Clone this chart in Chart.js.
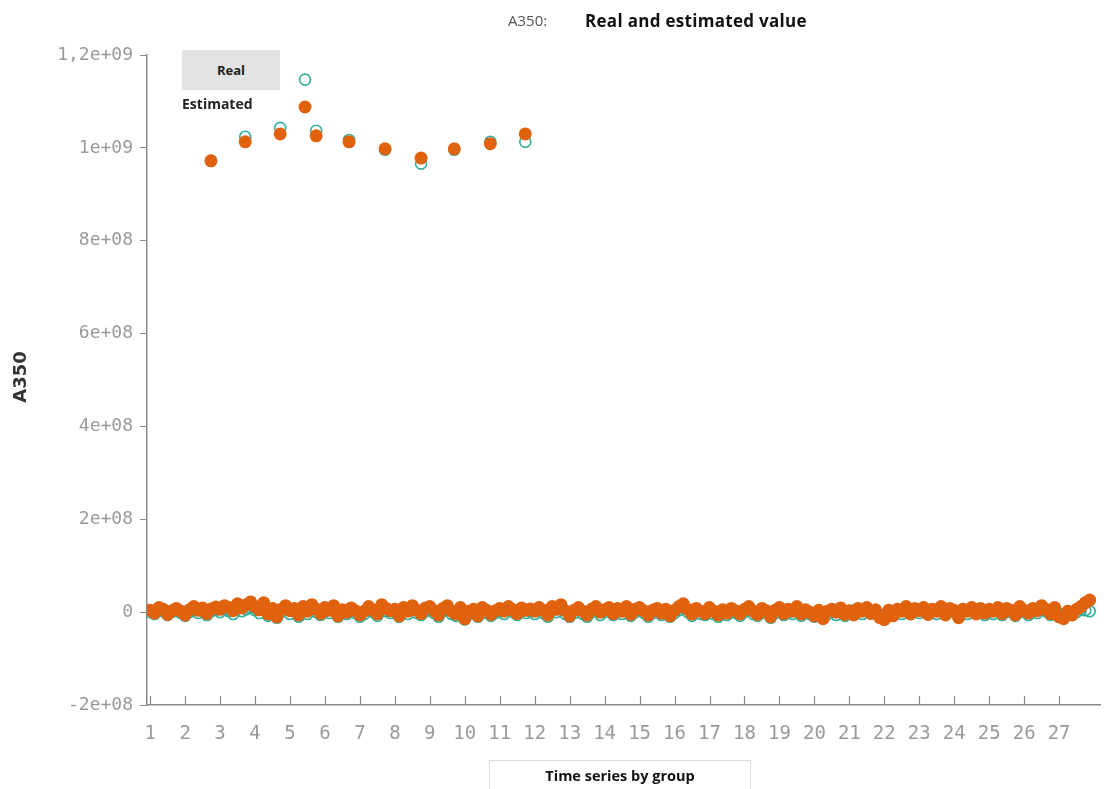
<!DOCTYPE html>
<html>
<head>
<meta charset="utf-8">
<script src="https://cdn.jsdelivr.net/npm/chart.js@4.4.1/dist/chart.umd.min.js"></script>
<style>
  body { margin: 0; background: #fff; }
  #wrap { position: relative; width: 1110px; height: 789px; }
  .lbl { position: absolute; font-family: "Open Sans", "Liberation Sans", sans-serif; }
  #t1 { left: 508px; top: 10px; font-size: 15px; color: #555; }
  #t2 { left: 585px; top: 9px; font-size: 17px; font-weight: bold; color: #111; letter-spacing: 0.3px; }
  #legReal { left: 182px; top: 50px; width: 98px; height: 40px; background: #e3e3e3; font-size: 13px; font-weight: bold; color: #222; text-align: center; line-height: 40px; }
  #legEst { left: 182px; top: 94px; font-size: 14px; font-weight: bold; color: #222; }
  #ytitle { left: -10px; top: 365px; width: 60px; height: 24px; line-height: 24px; text-align: center; font-size: 18px; font-weight: bold; color: #333; transform: rotate(-90deg); font-family: "DejaVu Sans", sans-serif; }
  #xtitle { left: 489px; top: 760px; width: 260px; height: 29px; border: 1px solid #dcdcdc; font-size: 14.5px; font-weight: bold; color: #111; text-align: center; line-height: 29px; }
</style>
</head>
<body>
<div id="wrap">
  <canvas id="myChart" width="1110" height="789"></canvas>
  <div class="lbl" id="t1">A350:</div>
  <div class="lbl" id="t2">Real and estimated value</div>
  <div class="lbl" id="legReal">Real</div>
  <div class="lbl" id="legEst">Estimated</div>
  <div class="lbl" id="ytitle">A350</div>
  <div class="lbl" id="xtitle">Time series by group</div>
</div>
<script>
//data (values in millions)
const groups = [1,2,3,4,5,6,7,8,9,10,11,12,13,14,15,16,17,18,19,20,21,22,23,24,25,26,27];
const xTicks = groups;
const yTicks = [-2e8, 0, 2e8, 4e8, 6e8, 8e8, 1e9, 1.2e9];

// points well above zero
const highX = [2.74, 3.72, 4.72, 5.43, 5.75, 6.69, 7.72, 8.75, 9.7, 10.73, 11.73];
const highReal = [972, 1024, 1043, 1147, 1037, 1017, 996, 966, 996, 1013, 1013];
const highEst = [972, 1013, 1030, 1088, 1026, 1013, 998, 978, 998, 1009, 1030];

// points around zero, 8 per group
const estZero = [
  [4, -2, 10, 6, -5, 3, 8, 2],
  [-6, 5, 12, 4, 9, -3, 7, 11],
  [6, 14, 10, 3, 18, 9, 16, 22],
  [12, 5, 20, -4, 8, -10, 6, 14],
  [3, 8, -6, 12, 2, 16, 7, -3],
  [10, 4, 14, -8, 5, 0, 9, 3],
  [-6, 2, 12, 5, -4, 16, 8, 3],
  [6, -8, 10, 2, 14, 4, -3, 9],
  [12, 3, -6, 8, 14, 2, -4, 10],
  [-14, 2, 6, -8, 10, 4, -5, 3],
  [8, 2, 12, 5, -3, 9, 4, 7],
  [2, 10, 4, -6, 12, 6, 16, 3],
  [-8, 4, 10, 2, -6, 6, 12, 0],
  [5, 10, -3, 8, 2, 12, -5, 6],
  [10, 3, -6, 4, 8, -2, 6, -8],
  [4, 12, 18, 6, -4, 8, 2, -3],
  [10, 2, -6, 5, -2, 8, 3, -4],
  [6, 12, 2, -5, 8, 3, -10, 4],
  [10, -3, 6, 2, 12, -4, 5, 0],
  [-8, 4, -14, 2, 6, 0, 9, -5],
  [3, -6, 8, 2, 10, -3, 5, -12],
  [-16, 4, -8, 6, 2, 12, -4, 8],
  [3, 10, -5, 6, 2, 12, -6, 8],
  [4, -12, 6, 2, 10, -4, 8, -2],
  [6, 2, 10, -3, 8, 4, -6, 12],
  [4, -2, 8, 3, 14, 6, -3, 10],
  [-10, -14, 2, -6, 6, 12, 20, 26]
];
const realZero = [
  [0, -4, 4, 2, -6, 0, 3, -2],
  [-8, 0, 6, -2, 3, -6, 2, 5],
  [0, 6, 2, -4, 8, 2, 6, 10],
  [4, -2, 8, -8, 0, -12, 0, 6],
  [-4, 2, -10, 4, -4, 8, 0, -6],
  [2, -2, 6, -10, 0, -4, 2, -2],
  [-10, -4, 4, 0, -8, 6, 2, -2],
  [0, -10, 4, -4, 6, -2, -6, 2],
  [4, -2, -10, 2, 6, -4, -8, 4],
  [-16, -4, 0, -10, 4, -2, -8, -2],
  [2, -4, 4, 0, -6, 2, -2, 2],
  [-4, 4, -2, -10, 4, 0, 8, -4],
  [-10, -2, 4, -4, -10, 0, 4, -6],
  [0, 4, -6, 2, -4, 6, -8, 0],
  [4, -2, -10, -2, 2, -6, 0, -10],
  [-2, 4, 10, 0, -8, 2, -4, -6],
  [4, -4, -10, 0, -6, 2, -2, -8],
  [0, 6, -4, -8, 2, -2, -12, -2],
  [4, -6, 0, -4, 6, -8, 0, -4],
  [-10, -2, -8, -4, 2, -6, 2, -8],
  [-2, 4, 2, -4, 6, 0, 0, -6],
  [-6, -2, -2, 2, -4, 6, 2, 4],
  [-2, 4, 0, 2, -4, 6, 0, 4],
  [0, -6, 2, -4, 4, 0, 2, -6],
  [2, -4, 4, -6, 2, 0, -8, 6],
  [0, -6, 2, -2, 8, 2, -6, 4],
  [-4, -8, -2, -2, 0, 6, 4, 2]
];

function buildPoints(zero, hx, hy){
  const pts = [];
  zero.forEach((row, g) => {
    row.forEach((v, j) => {
      pts.push({ x: groups[g] + j / row.length, y: v * 1e6 });
    });
  });
  hx.forEach((x, i) => pts.push({ x: x, y: hy[i] * 1e6 }));
  return pts;
}

function fmtSci(v){
  if (v === 0) return '0';
  const e = Math.floor(Math.log10(Math.abs(v)) + 1e-9);
  let m = v / Math.pow(10, e);
  m = Math.round(m * 10) / 10;
  const es = (e < 10 ? '0' : '') + e;
  return String(m).replace('.', ',') + 'e+' + es;
}

// small tick marks pointing up from the x axis
const upTicks = {
  id: 'upTicks',
  afterDraw(chart){
    const c = chart.ctx, xs = chart.scales.x, bottom = chart.chartArea.bottom;
    c.save();
    c.strokeStyle = '#888';
    c.lineWidth = 1.2;
    xTicks.forEach(v => {
      const px = Math.round(xs.getPixelForValue(v)) + 0.5;
      c.beginPath();
      c.moveTo(px, bottom);
      c.lineTo(px, bottom - 9);
      c.stroke();
    });
    c.restore();
  }
};

const ctx = document.getElementById('myChart').getContext('2d');
const myChart = new Chart(ctx, {
  type: 'scatter',
  data: {
    datasets: [{
      label: 'Estimated',
      data: buildPoints(estZero, highX, highEst),
      backgroundColor: '#e0620f',
      borderColor: '#e0620f',
      pointRadius: 6.5,
      borderWidth: 0,
      order: 0
    }, {
      label: 'Real',
      data: buildPoints(realZero, highX, highReal),
      backgroundColor: 'rgba(0,0,0,0)',
      borderColor: '#33ad9c',
      pointRadius: 5.5,
      borderWidth: 1.6,
      order: 1
    }]
  },
  options: {
    responsive: false,
    animation: false,
    layout: { padding: { top: 55, right: 10, left: 0, bottom: 0 } },
    plugins: { legend: { display: false }, tooltip: { enabled: false }, title: { display: false } },
    scales: {
      x: {
        type: 'linear',
        min: 0.91,
        max: 28.17,
        afterFit: s => { s.height = 84; },
        afterBuildTicks: s => { s.ticks = xTicks.map(v => ({ value: v })); },
        grid: { display: false, drawTicks: false },
        border: { color: '#888', width: 1.5 },
        ticks: {
          padding: 18,
          color: '#999',
          font: { family: 'DejaVu Sans Mono', size: 19 },
          maxRotation: 0,
          autoSkip: false
        }
      },
      y: {
        min: -2e8,
        max: 1.2e9,
        afterFit: s => { s.width = 147; },
        afterBuildTicks: s => { s.ticks = yTicks.map(v => ({ value: v })); },
        grid: { drawOnChartArea: false, drawTicks: true, tickLength: 7, color: '#888' },
        border: { color: '#888', width: 1.5 },
        ticks: {
          padding: 7,
          color: '#999',
          font: { family: 'DejaVu Sans Mono', size: 18 },
          callback: v => fmtSci(v)
        }
      }
    }
  },
  plugins: [upTicks]
});
</script>
</body>
</html>
